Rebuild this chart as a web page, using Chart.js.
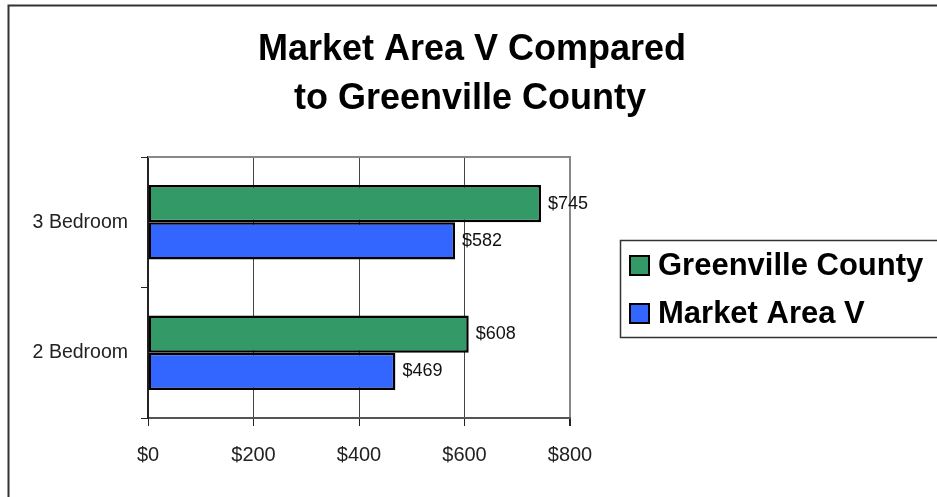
<!DOCTYPE html>
<html>
<head>
<meta charset="utf-8">
<script src="https://cdn.jsdelivr.net/npm/chart.js@4/dist/chart.umd.min.js"></script>
<style>
  html, body { margin: 0; padding: 0; background: #fff; }
  #wrap { width: 937px; height: 497px; }
</style>
</head>
<body>
<div id="wrap"><canvas id="rentChart" width="937" height="497"></canvas></div>
<script>
// rent comparison by unit size
const categories = ['3 Bedroom', '2 Bedroom'];
const greenvilleRents = [745, 608];
const marketAreaRents = [582, 469];
const titleLines = ['Market Area V Compared', 'to Greenville County'];
const seriesNames = ['Greenville County', 'Market Area V'];

const plainFont = "'Liberation Sans', Arial, sans-serif";

const money = v => '$' + v;

// frame, title, value labels and legend box
const decorPlugin = {
    id: 'decor',
    afterDraw(chart) {
        const ctx = chart.ctx;
        const area = chart.chartArea;
        ctx.save();

        // outer frame (runs off the right and bottom edges)
        ctx.strokeStyle = '#333';
        ctx.lineWidth = 2;
        ctx.beginPath();
        ctx.moveTo(8.5, 500);
        ctx.lineTo(8.5, 5.5);
        ctx.lineTo(940, 5.5);
        ctx.stroke();

        // top edge of plot area
        ctx.strokeStyle = '#888';
        ctx.beginPath();
        ctx.moveTo(area.left, area.top);
        ctx.lineTo(area.right + 1, area.top);
        ctx.stroke();

        // title
        ctx.fillStyle = '#000';
        ctx.font = 'bold 36px ' + plainFont;
        ctx.textAlign = 'center';
        ctx.textBaseline = 'alphabetic';
        ctx.fillText(titleLines[0], 472, 60);
        ctx.fillText(titleLines[1], 470, 109);

        // value labels at bar ends
        ctx.font = '18px ' + plainFont;
        ctx.textAlign = 'left';
        ctx.textBaseline = 'middle';
        ctx.fillStyle = '#111';
        chart.data.datasets.forEach((ds, i) => {
            chart.getDatasetMeta(i).data.forEach((bar, j) => {
                ctx.fillText(money(ds.data[j]), bar.x + 7, bar.y);
            });
        });

        // legend box
        ctx.fillStyle = '#fff';
        ctx.fillRect(620, 240, 330, 97);
        ctx.strokeStyle = '#333';
        ctx.lineWidth = 1.5;
        ctx.strokeRect(620.5, 240.5, 330, 97);
        ctx.font = 'bold 31px ' + plainFont;
        ctx.textBaseline = 'middle';
        const rows = [265.5, 313.5];
        chart.data.datasets.forEach((ds, i) => {
            const cy = rows[i];
            ctx.fillStyle = ds.backgroundColor;
            ctx.fillRect(629, cy - 10.5, 21, 21);
            ctx.strokeStyle = '#000';
            ctx.lineWidth = 2;
            ctx.strokeRect(630, cy - 9.5, 19, 19);
            ctx.fillStyle = '#000';
            ctx.fillText(ds.label, 658, cy + 1);
        });

        ctx.restore();
    }
};

new Chart(document.getElementById('rentChart').getContext('2d'), {
    type: 'bar',
    data: {
        labels: categories,
        datasets: [
            {
                label: seriesNames[0],
                data: greenvilleRents,
                backgroundColor: '#339966',
                borderColor: '#000',
                borderWidth: 2.5,
                borderSkipped: false
            },
            {
                label: seriesNames[1],
                data: marketAreaRents,
                backgroundColor: '#3366FF',
                borderColor: '#000',
                borderWidth: 2.5,
                borderSkipped: false
            }
        ]
    },
    options: {
        indexAxis: 'y',
        responsive: false,
        animation: false,
        events: [],
        layout: { padding: { top: 157, right: 367, left: 0, bottom: 0 } },
        datasets: {
            bar: { categoryPercentage: 0.57, barPercentage: 1 }
        },
        plugins: {
            legend: { display: false },
            title: { display: false },
            tooltip: { enabled: false }
        },
        scales: {
            x: {
                min: 0,
                max: 800,
                afterFit(scale) { scale.height = 79; },
                ticks: {
                    stepSize: 200,
                    callback: v => money(v),
                    color: '#222',
                    padding: 17,
                    font: { family: plainFont, size: 20 }
                },
                grid: {
                    color: ctx => ctx.tick && ctx.tick.value === 800 ? '#888' : '#444',
                    lineWidth: ctx => ctx.tick && ctx.tick.value === 800 ? 2 : 1,
                    tickColor: '#222',
                    tickLength: 8
                },
                border: { color: '#555', width: 2 }
            },
            y: {
                afterFit(scale) { scale.width = 148; },
                ticks: {
                    color: '#222',
                    padding: 13,
                    font: { family: plainFont, size: 19.5 }
                },
                grid: {
                    drawOnChartArea: false,
                    color: '#222',
                    tickLength: 7
                },
                border: { color: '#222', width: 2 }
            }
        }
    },
    plugins: [decorPlugin]
});
</script>
</body>
</html>
